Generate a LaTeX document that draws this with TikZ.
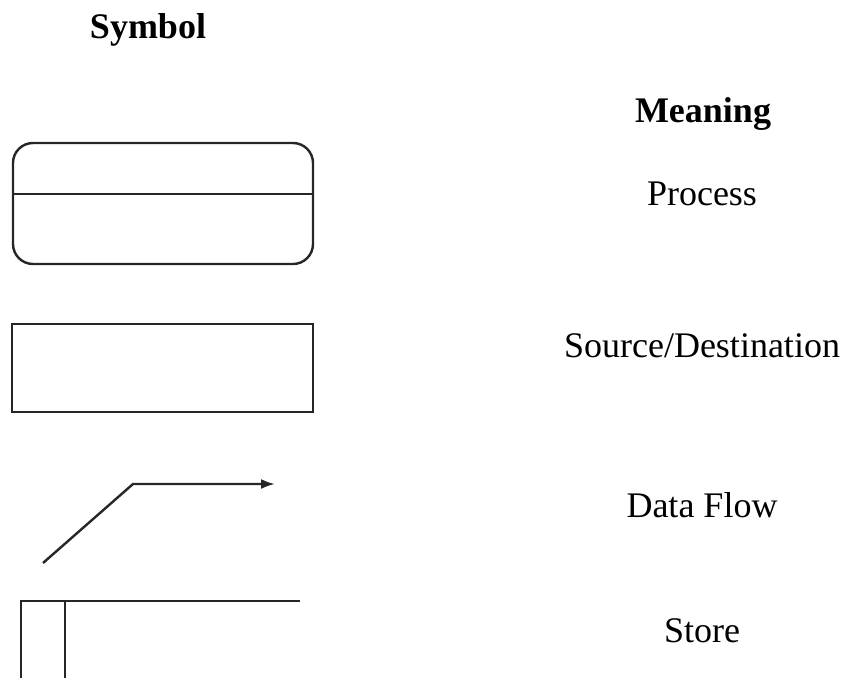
\documentclass[tikz,border=0pt]{standalone}
\usepackage{fontspec}
\setmainfont{Liberation Serif}
\usetikzlibrary{arrows.meta}
\begin{document}
\begin{tikzpicture}[x=1pt,y=-1pt,
  shapeline/.style={draw=black!85,line width=2.4pt},
  label/.style={anchor=base,inner sep=0pt,font=\fontsize{36}{40}\selectfont},
  headlabel/.style={label,font=\fontsize{36}{40}\selectfont\bfseries}]
\useasboundingbox (0,0) rectangle (846,678);

% column headings
\node[headlabel] (hsym) at (148,38) {Symbol};
\node[headlabel] (hmean) at (703,122) {Meaning};

% process: rounded box split by a horizontal bar
\draw[shapeline,rounded corners=20pt] (13,143) rectangle (313,264);
\draw[shapeline] (13,194) -- (313,194);
\node[label] (lproc) at (702,205) {Process};

% source / destination
\draw[shapeline] (12,324) rectangle (313,412);
\node[label] (lsrc) at (702,357) {Source/Destination};

% data flow
\coordinate (fstart) at (43,563);
\coordinate (fbend) at (133,484);
\coordinate (fend) at (275,484);
\draw[shapeline,-{Latex[length=14pt,width=10pt]}] (fstart) -- (fbend) -- (fend);
\node[label] (lflow) at (702,517) {Data Flow};

% store
\draw[shapeline] (300,601) -- (21,601) -- (21,678);
\draw[shapeline] (65,601) -- (65,678);
\node[label] (lstore) at (702,642) {Store};
\end{tikzpicture}
\end{document}
